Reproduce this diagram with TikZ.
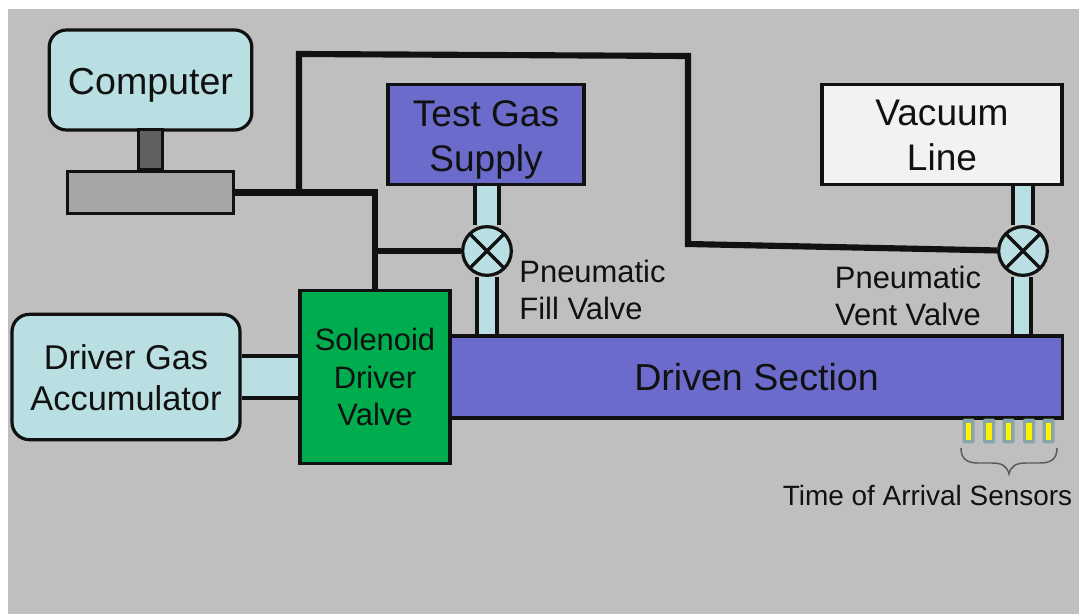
\documentclass[tikz,border=0pt]{standalone}
\usepackage{fontspec}
\setmainfont{Liberation Sans}
\definecolor{bggray}{HTML}{BFBFBF}
\definecolor{pipeblue}{HTML}{B9DFE2}
\definecolor{gasblue}{HTML}{6B6BCB}
\definecolor{valvegreen}{HTML}{00AD4E}
\definecolor{inkblack}{HTML}{111111}
\definecolor{sensorgray}{HTML}{85A5A8}
\tikzset{
  box/.style={draw=inkblack, line width=2.4pt, inner sep=0pt, align=center, text=inkblack},
  roundbox/.style={box, rounded corners=13pt, fill=pipeblue},
  pipe/.style={draw=inkblack, line width=2.4pt, double=pipeblue, double distance=#1},
  wire/.style={draw=inkblack, line width=4.6pt},
  valve/.style={circle, draw=inkblack, line width=2.4pt, fill=pipeblue, minimum size=36.5pt, inner sep=0pt,
    path picture={
      \draw[inkblack, line width=2.4pt] (path picture bounding box.north west) -- (path picture bounding box.south east);
      \draw[inkblack, line width=2.4pt] (path picture bounding box.north east) -- (path picture bounding box.south west);
    }},
  label/.style={text=inkblack, inner sep=0pt, font=\fontsize{23.2}{27.4}\selectfont},
  sensor/.style={draw=none, fill=sensorgray, minimum width=9pt, minimum height=18.5pt, inner sep=0pt, rounded corners=1pt},
  sensorcore/.style={draw=none, fill=yellow, minimum width=3.9pt, minimum height=12.8pt, inner sep=0pt}
}
\begin{document}
\begin{tikzpicture}[x=0.75pt, y=-0.75pt]
  \useasboundingbox (0,0) rectangle (1079,614);
  \fill[bggray] (8,9) rectangle (1079,614);

  % --- computer ---
  \node[roundbox, minimum width=152pt, minimum height=75pt, font=\fontsize{28.2}{34}\selectfont] (computer) at (150.5,80) {\rule{0pt}{27.8pt}Computer};
  \node[box, fill=black!62, minimum width=18.5pt, minimum height=30.5pt] (neck) at (150.5,149.5) {};
  \node[box, fill=black!35, minimum width=125pt, minimum height=32pt] (daq) at (150.5,192.5) {};

  % --- supply lines ---
  \node[box, fill=gasblue, minimum width=147pt, minimum height=75.5pt, font=\fontsize{27.8}{33.75}\selectfont] (testgas) at (486,134.5) {\rule{0pt}{27.4pt}Test Gas\\Supply};
  \node[box, fill=black!5, minimum width=180pt, minimum height=75.5pt, font=\fontsize{27.8}{33.75}\selectfont] (vacuum) at (942,134.5) {\rule{0pt}{20pt}Vacuum\\Line};

  % --- main section ---
  \node[box, fill=gasblue, minimum width=459.5pt, minimum height=61.5pt, font=\fontsize{28.2}{34}\selectfont] (driven) at (756.5,377) {Driven Section};
  \node[box, fill=valvegreen, minimum width=112.5pt, minimum height=130pt, font=\fontsize{23.2}{28.2}\selectfont] (solenoid) at (375,377) {Solenoid\\Driver\\Valve};
  \node[roundbox, minimum width=171pt, minimum height=94pt, font=\fontsize{25.8}{31.2}\selectfont] (accumulator) at (126,377) {\rule{0pt}{20pt}Driver Gas\\Accumulator};

  % --- valves ---
  \node[valve] (fillvalve) at (487,251) {};
  \node[valve] (ventvalve) at (1023,251) {};

  % --- pipes ---
  \draw[pipe=15.5pt] (testgas.south -| fillvalve) -- (fillvalve);
  \draw[pipe=12.5pt] (fillvalve) -- (driven.north -| fillvalve);
  \draw[pipe=12.7pt] (vacuum.south -| ventvalve) -- (ventvalve);
  \draw[pipe=11.3pt] ([xshift=-0.8pt]ventvalve.south) -- ([xshift=-0.8pt]driven.north -| ventvalve);
  \draw[pipe=29pt] (accumulator) -- (solenoid);

  % --- control wires ---
  \coordinate (branchup) at (299,192.5);
  \coordinate (topleft) at (299,54);
  \coordinate (topright) at (688,56);
  \coordinate (dropright) at (688,244);
  \coordinate (branchfill) at (375,251);
  \draw[wire] (daq.east) -| (solenoid.north);
  \draw[wire, line join=miter] (branchup) -- (topleft) -- (topright) -- (dropright) -- (ventvalve);
  \draw[wire] (branchfill) -- (fillvalve);

  % --- labels ---
  \node[label, align=left] (filllabel) at (592.5,290) {Pneumatic\\Fill Valve};
  \node[label, align=center] (ventlabel) at (908,296) {Pneumatic\\Vent Valve};

  % --- sensors ---
  \foreach \i/\xs in {1/968.5,2/989,3/1008.5,4/1029,5/1048.5}{
    \node[sensor] (sensor\i) at (\xs,431) {};
    \node[sensorcore] (core\i) at (\xs,431.5) {};
  }
  \draw[black!65, line width=1.1pt] (961,448) .. controls (961,458) and (966,463) .. (978,463)
    -- (992,463) .. controls (1002,463) and (1007,466) .. (1009,474)
    .. controls (1011,466) and (1016,463) .. (1026,463)
    -- (1040,463) .. controls (1052,463) and (1057,458) .. (1057,448);
  \node[label, font=\fontsize{20.95}{26}\selectfont] (sensorlabel) at (927.5,496) {Time of Arrival Sensors};
\end{tikzpicture}
\end{document}
